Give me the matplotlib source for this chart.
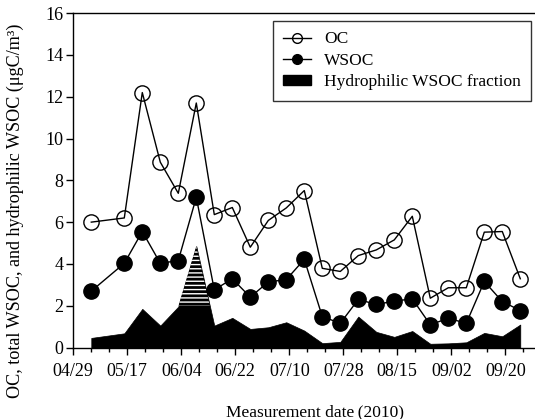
import matplotlib
matplotlib.use("Agg")
import matplotlib.pyplot as plt
from matplotlib.lines import Line2D
from matplotlib.patches import Patch
import numpy as np
import pandas as pd

plt.rcParams['font.family'] = ['Liberation Serif', 'DejaVu Serif']
plt.rcParams['hatch.color'] = 'white'
plt.rcParams['hatch.linewidth'] = 1.0

dates = ['2010-05-05', '2010-05-16', '2010-05-22', '2010-05-28', '2010-06-03', '2010-06-09',
         '2010-06-15', '2010-06-21', '2010-06-27', '2010-07-03', '2010-07-09', '2010-07-15',
         '2010-07-21', '2010-07-27', '2010-08-02', '2010-08-08', '2010-08-14', '2010-08-20',
         '2010-08-26', '2010-09-01', '2010-09-07', '2010-09-13', '2010-09-19', '2010-09-25']
oc = [6.0, 6.2, 12.2, 8.87, 7.38, 11.7, 6.36, 6.7, 4.8, 6.08, 6.68, 7.51,
      3.79, 3.64, 4.4, 4.67, 5.15, 6.28, 2.36, 2.86, 2.86, 5.52, 5.55, 3.29]
wsoc = [2.7, 4.03, 5.55, 4.03, 4.16, 7.19, 2.76, 3.29, 2.41, 3.14, 3.25, 4.22,
        1.48, 1.16, 2.3, 2.06, 2.22, 2.33, 1.09, 1.4, 1.16, 3.16, 2.2, 1.77]
hydrophilic = [0.46, 0.68, 1.85, 1.05, 1.96, 4.85, 1.05, 1.42, 0.89, 0.97, 1.21, 0.81,
               0.21, 0.27, 1.48, 0.75, 0.51, 0.79, 0.18, 0.2, 0.25, 0.7, 0.54, 1.1]
tick_dates = ['2010-04-29', '2010-05-17', '2010-06-04', '2010-06-22', '2010-07-10',
              '2010-07-28', '2010-08-15', '2010-09-02', '2010-09-20']
tick_labels = ['04/29', '05/17', '06/04', '06/22', '07/10', '07/28', '08/15', '09/02', '09/20']

x = pd.to_datetime(dates)
hyd = np.array(hydrophilic)

fig = plt.figure(figsize=(5.35, 4.19), dpi=100)
ax = fig.add_axes([0.137, 0.1706, 0.9084, 0.798])

ax.fill_between(x, 0, hyd, facecolor='black', edgecolor='black', lw=0.5, zorder=1)
ax.fill_between(x, 2.0, hyd, where=hyd > 2.0, interpolate=True, facecolor='black',
                edgecolor='white', hatch='----', lw=0, zorder=1.5)
ax.plot(x, wsoc, color='black', lw=1.0, marker='o', ms=11, mfc='black', mec='black', zorder=3)
ax.plot(x, oc, color='black', lw=1.0, marker='o', ms=11, mfc='none', mec='black', mew=1.0, zorder=4)

ax.set_xlim(pd.Timestamp('2010-04-29'), pd.Timestamp('2010-10-08'))
ax.set_ylim(0, 16)
ax.set_yticks(np.arange(0, 17, 2))
ax.set_xticks(pd.to_datetime(tick_dates))
ax.set_xticklabels(tick_labels)
ax.set_xticks(pd.date_range('2010-04-29', '2010-10-08', freq='6D'), minor=True)

for s in ['top', 'bottom', 'left', 'right']:
    ax.spines[s].set_linewidth(1.0)
ax.tick_params(axis='both', which='major', direction='out', length=5, width=1.0, labelsize=13)
ax.tick_params(axis='x', which='major', pad=6)
ax.tick_params(axis='y', which='major', pad=2)
ax.tick_params(axis='x', which='minor', direction='out', length=3, width=1.0)

fig.text(315.5 / 535, 3 / 419, 'Measurement date\u2009(2010)', ha='center', va='baseline', fontsize=12.5)
fig.text(15 / 535, 0.497, 'OC, total WSOC, and hydrophilic WSOC (\u03bcgC/m\u00b3)', rotation=90,
         ha='center', va='center', fontsize=13.1)

handles = [Line2D([], [], color='black', lw=1.0, marker='o', ms=7, mfc='none', mec='black'),
           Line2D([], [], color='black', lw=1.0, marker='o', ms=7, mfc='black', mec='black'),
           Patch(facecolor='black', edgecolor='black')]
leg = ax.legend(handles, ['OC', 'WSOC', 'Hydrophilic WSOC fraction'], loc='upper left',
                bbox_to_anchor=(272.7 / 535, 1 - 20.7 / 419), bbox_transform=fig.transFigure,
                borderaxespad=0, fancybox=False, frameon=True, edgecolor='black', fontsize=12.5,
                handlelength=1.6, handleheight=0.5, handletextpad=0.75, labelspacing=0.32,
                borderpad=0.6)
leg.get_frame().set_linewidth(1.0)

fig.savefig('out.png', dpi=100)
